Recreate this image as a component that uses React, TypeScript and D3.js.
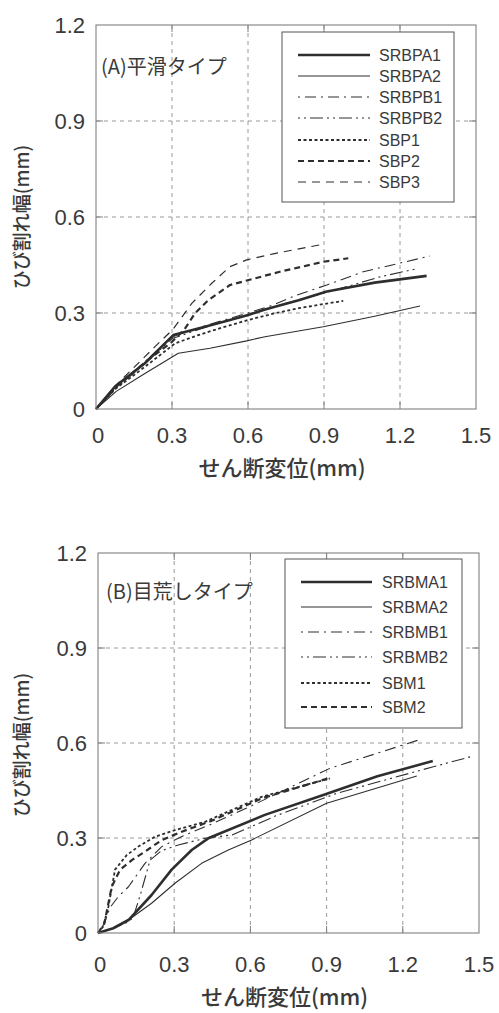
import React from "react";
import * as d3 from "d3";

// ---------- Data: Panel A (平滑タイプ) ----------
const xTicks = [0, 0.3, 0.6, 0.9, 1.2, 1.5];
const yTicks = [0, 0.3, 0.6, 0.9, 1.2];
const xTickLabels = ["0", "0.3", "0.6", "0.9", "1.2", "1.5"];
const yTickLabels = ["0", "0.3", "0.6", "0.9", "1.2"];

const seriesNamesA = ["SRBPA1", "SRBPA2", "SRBPB1", "SRBPB2", "SBP1", "SBP2", "SBP3"];

const SRBPA1_x = [0, 0.075, 0.193, 0.259, 0.305, 0.43, 0.529, 0.601, 0.667, 0.8, 0.911, 1.1, 1.305];
const SRBPA1_y = [0, 0.07, 0.143, 0.195, 0.231, 0.257, 0.278, 0.294, 0.311, 0.34, 0.367, 0.395, 0.416];

const SRBPA2_x = [0, 0.08, 0.193, 0.325, 0.45, 0.595, 0.667, 0.897, 1.1, 1.279];
const SRBPA2_y = [0, 0.055, 0.111, 0.174, 0.19, 0.213, 0.226, 0.257, 0.29, 0.322];

const SRBPB1_x = [0, 0.08, 0.19, 0.3, 0.43, 0.6, 0.7, 0.792, 0.911, 1.055, 1.318];
const SRBPB1_y = [0, 0.07, 0.145, 0.225, 0.26, 0.3, 0.325, 0.356, 0.3875, 0.429, 0.478];

const SRBPB2_x = [0, 0.08, 0.19, 0.3, 0.43, 0.6, 0.75, 0.924, 1.121, 1.259];
const SRBPB2_y = [0, 0.065, 0.14, 0.22, 0.255, 0.295, 0.33, 0.367, 0.413, 0.437];

const SBP1_x = [0, 0.08, 0.19, 0.312, 0.4, 0.5, 0.6, 0.7, 0.8, 0.976];
const SBP1_y = [0, 0.065, 0.13, 0.205, 0.23, 0.255, 0.278, 0.298, 0.315, 0.338];

const SBP2_x = [0, 0.08, 0.2, 0.3, 0.35, 0.391, 0.443, 0.529, 0.726, 0.897, 0.996];
const SBP2_y = [0, 0.07, 0.15, 0.21, 0.25, 0.299, 0.34, 0.3875, 0.429, 0.46, 0.471];

const SBP3_x = [0, 0.08, 0.233, 0.305, 0.378, 0.457, 0.529, 0.595, 0.7, 0.884];
const SBP3_y = [0, 0.075, 0.195, 0.25, 0.33, 0.393, 0.445, 0.466, 0.485, 0.513];

// ---------- Data: Panel B (目荒しタイプ) ----------
const seriesNamesB = ["SRBMA1", "SRBMA2", "SRBMB1", "SRBMB2", "SBM1", "SBM2"];

const SRBMA1_x = [0, 0.06, 0.12, 0.211, 0.29, 0.369, 0.434, 0.657, 0.887, 1.1, 1.318];
const SRBMA1_y = [0, 0.015, 0.041, 0.12, 0.2, 0.262, 0.299, 0.373, 0.436, 0.495, 0.543];

const SRBMA2_x = [0, 0.06, 0.12, 0.211, 0.303, 0.408, 0.513, 0.605, 0.9, 1.255];
const SRBMA2_y = [0, 0.015, 0.041, 0.094, 0.157, 0.22, 0.262, 0.294, 0.41, 0.496];

const SRBMB1_x = [0, 0.025, 0.047, 0.08, 0.12, 0.185, 0.25, 0.33, 0.45, 0.6, 0.913, 1.268];
const SRBMB1_y = [0, 0.03, 0.08, 0.115, 0.146, 0.22, 0.272, 0.305, 0.345, 0.4, 0.52, 0.611];

const SRBMB2_x = [0, 0.06, 0.12, 0.139, 0.17, 0.205, 0.25, 0.316, 0.421, 0.53, 0.7, 0.94, 1.32, 1.478];
const SRBMB2_y = [0, 0.015, 0.035, 0.05, 0.13, 0.23, 0.26, 0.278, 0.299, 0.31, 0.37, 0.441, 0.525, 0.559];

const SBM1_x = [0, 0.02, 0.041, 0.067, 0.113, 0.159, 0.224, 0.303, 0.421, 0.644, 0.913];
const SBM1_y = [0, 0.02, 0.083, 0.2, 0.246, 0.273, 0.304, 0.325, 0.351, 0.43, 0.488];

const SBM2_x = [0, 0.025, 0.054, 0.087, 0.133, 0.185, 0.25, 0.33, 0.45, 0.644, 0.913];
const SBM2_y = [0, 0.03, 0.146, 0.2, 0.23, 0.257, 0.293, 0.32, 0.355, 0.425, 0.49];

// ---------- Styles ----------
type Style = { w: number; dash: string | null };
const styleList: Style[] = [
  { w: 2.6, dash: null },
  { w: 1.1, dash: null },
  { w: 1.1, dash: "2 5 11 5" },
  { w: 1.1, dash: "2 4 2 4 13 4" },
  { w: 1.8, dash: "3 2.5" },
  { w: 2.2, dash: "6 4" },
  { w: 1.2, dash: "8 6" },
];

const zip = (xs: number[], ys: number[]) => xs.map((x, i) => [x, ys[i]] as [number, number]);

const seriesA = [
  zip(SRBPA1_x, SRBPA1_y),
  zip(SRBPA2_x, SRBPA2_y),
  zip(SRBPB1_x, SRBPB1_y),
  zip(SRBPB2_x, SRBPB2_y),
  zip(SBP1_x, SBP1_y),
  zip(SBP2_x, SBP2_y),
  zip(SBP3_x, SBP3_y),
];
const seriesB = [
  zip(SRBMA1_x, SRBMA1_y),
  zip(SRBMA2_x, SRBMA2_y),
  zip(SRBMB1_x, SRBMB1_y),
  zip(SRBMB2_x, SRBMB2_y),
  zip(SBM1_x, SBM1_y),
  zip(SBM2_x, SBM2_y),
];

const LINE = "#2e2e2e";
const GRID = "#808080";
const TEXT = "#3a3a3a";
const CJK = "'Noto Sans CJK JP', 'Noto Sans', sans-serif";
const SANS = "'Liberation Sans', Arial, sans-serif";

type PanelProps = {
  left: number; right: number; top: number; bottom: number;
  series: [number, number][][];
  names: string[];
  label: string; labelX: number; labelY: number;
  legend: { x0: number; y0: number; x1: number; y1: number; rowY: number[]; lx0: number; lx1: number; tx: number };
  xLabelDy: number; xTitleY: number; yTitleY: number;
};

function Panel(p: PanelProps) {
  const x = d3.scaleLinear().domain([0, 1.5]).range([p.left, p.right]);
  const y = d3.scaleLinear().domain([0, 1.2]).range([p.bottom, p.top]);
  const line = d3.line<[number, number]>().x((d) => x(d[0])).y((d) => y(d[1]));
  const tick = 7;
  return (
    <g>
      {/* grid */}
      {xTicks.slice(1, -1).map((t) => (
        <line key={"gx" + t} x1={x(t)} x2={x(t)} y1={p.top} y2={p.bottom} stroke={GRID} strokeWidth={0.8} strokeDasharray="4 4" />
      ))}
      {yTicks.slice(1, -1).map((t) => (
        <line key={"gy" + t} x1={p.left} x2={p.right} y1={y(t)} y2={y(t)} stroke={GRID} strokeWidth={0.8} strokeDasharray="4 4" />
      ))}
      {/* inward ticks on all sides */}
      {xTicks.slice(1, -1).map((t) => (
        <g key={"tx" + t}>
          <line x1={x(t)} x2={x(t)} y1={p.bottom} y2={p.bottom - tick} stroke={GRID} strokeWidth={1} />
          <line x1={x(t)} x2={x(t)} y1={p.top} y2={p.top + tick} stroke={GRID} strokeWidth={1} />
        </g>
      ))}
      {yTicks.slice(1, -1).map((t) => (
        <g key={"ty" + t}>
          <line x1={p.left} x2={p.left + tick} y1={y(t)} y2={y(t)} stroke={GRID} strokeWidth={1} />
          <line x1={p.right} x2={p.right - tick} y1={y(t)} y2={y(t)} stroke={GRID} strokeWidth={1} />
        </g>
      ))}
      {/* series */}
      {p.series.map((s, i) => (
        <path key={"s" + i} d={line(s) || ""} fill="none" stroke={LINE} strokeWidth={styleList[i].w}
          strokeDasharray={styleList[i].dash || undefined} strokeLinejoin="round" />
      ))}
      {/* frame */}
      <rect x={p.left} y={p.top} width={p.right - p.left} height={p.bottom - p.top} fill="none" stroke={GRID} strokeWidth={1.1} />
      {/* legend */}
      <rect x={p.legend.x0} y={p.legend.y0} width={p.legend.x1 - p.legend.x0} height={p.legend.y1 - p.legend.y0}
        fill="#fff" stroke="#555" strokeWidth={1} />
      {p.names.map((n, i) => (
        <g key={"l" + n}>
          <line x1={p.legend.lx0} x2={p.legend.lx1} y1={p.legend.rowY[i]} y2={p.legend.rowY[i]} stroke={LINE}
            strokeWidth={styleList[i].w} strokeDasharray={styleList[i].dash || undefined} />
          <text x={p.legend.tx} y={p.legend.rowY[i]} dy="0.36em" fontFamily={SANS} fontSize={16} fill={TEXT}>{n}</text>
        </g>
      ))}
      {/* panel label */}
      <text x={p.labelX} y={p.labelY} fontFamily={CJK} fontSize={20} fill={TEXT}>{p.label}</text>
      {/* tick labels */}
      {xTicks.map((t, i) => (
        <text key={"xl" + t} x={x(t) + (i === 0 ? 2 : 0)} y={p.bottom + p.xLabelDy} textAnchor="middle" fontFamily={SANS} fontSize={22} fill={TEXT}>{xTickLabels[i]}</text>
      ))}
      {yTicks.map((t, i) => (
        <text key={"yl" + t} x={p.left - 11} y={y(t)} dy="0.36em" textAnchor="end" fontFamily={SANS} fontSize={22} fill={TEXT}>{yTickLabels[i]}</text>
      ))}
      {/* axis titles */}
      <text x={(p.left + p.right) / 2 - 4} y={p.xTitleY} textAnchor="middle" fontFamily={CJK} fontSize={22} fontWeight={500} fill={TEXT}>せん断変位(mm)</text>
      <text transform={`translate(29,${p.yTitleY}) rotate(-90)`} textAnchor="middle" fontFamily={CJK} fontSize={19} fontWeight={500} fill={TEXT}>ひび割れ幅(mm)</text>
    </g>
  );
}

export default function App() {
  return (
    <svg width={499} height={1013} style={{ position: "absolute", left: 0, top: 0, background: "#fff" }}>
      <rect width={499} height={1013} fill="#fff" />
      <Panel left={96} right={476} top={25} bottom={409} series={seriesA} names={seriesNamesA}
        label="(A)平滑タイプ" labelX={101} labelY={74}
        legend={{ x0: 282, y0: 32, x1: 454, y1: 202, rowY: [55, 76, 97, 118, 140, 161, 182], lx0: 298, lx1: 370, tx: 379 }}
        xLabelDy={34} xTitleY={476} yTitleY={217} />
      <Panel left={98} right={479} top={553} bottom={933} series={seriesB} names={seriesNamesB}
        label="(B)目荒しタイプ" labelX={106} labelY={599}
        legend={{ x0: 285, y0: 559, x1: 462, y1: 728, rowY: [582, 607, 632, 657, 683, 707], lx0: 301, lx1: 372, tx: 382 }}
        xLabelDy={39} xTitleY={1005} yTitleY={745} />
    </svg>
  );
}
